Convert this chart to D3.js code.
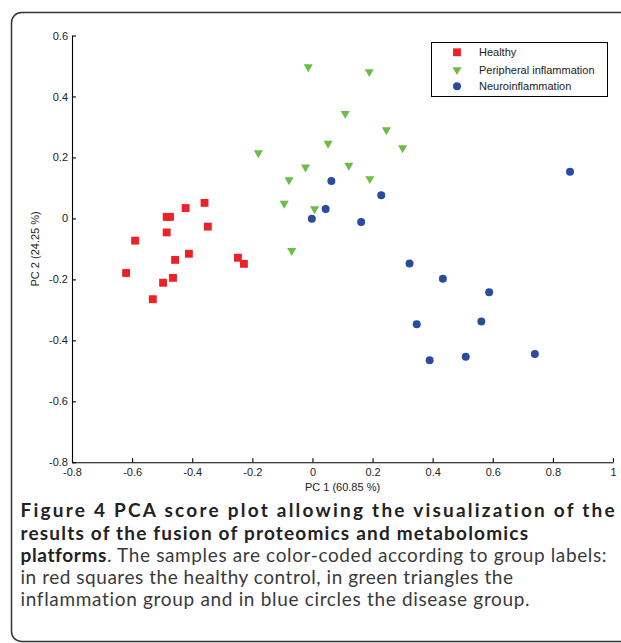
<!DOCTYPE html>
<html>
<head>
<meta charset="utf-8">
<script src="https://cdn.jsdelivr.net/npm/d3@7"></script>
<style>
  body { margin: 0; background: #fff; }
  svg { display: block; }
  .tick text { font-family: "Liberation Sans", Arial, sans-serif; font-size: 11px; fill: #222; }
  .caption { font-family: Lato, "Open Sans", sans-serif; fill: #333; font-size: 19px; }
</style>
</head>
<body>
<div class="viz"></div>
<script>
// PCA scores, [PC1, PC2]
const healthy = [
    [-0.485, 0.005], [-0.474, 0.005], [-0.422, 0.034], [-0.359, 0.051],
    [-0.348, -0.027], [-0.485, -0.046], [-0.590, -0.073], [-0.411, -0.116],
    [-0.457, -0.136], [-0.248, -0.129], [-0.228, -0.149], [-0.620, -0.179],
    [-0.497, -0.211], [-0.464, -0.195], [-0.531, -0.265],
];
const peripheral = [
    [-0.014, 0.497], [0.189, 0.481], [0.109, 0.344], [0.246, 0.290],
    [0.052, 0.246], [0.300, 0.231], [-0.180, 0.215], [-0.023, 0.168],
    [0.121, 0.174], [-0.078, 0.126], [0.191, 0.130], [-0.094, 0.049],
    [0.007, 0.031], [-0.069, -0.106],
];
const neuro = [
    [0.857, 0.153], [0.063, 0.123], [0.229, 0.076], [0.044, 0.031],
    [-0.002, -0.001], [0.162, -0.012], [0.323, -0.148], [0.434, -0.198],
    [0.588, -0.242], [0.347, -0.347], [0.562, -0.338], [0.390, -0.465],
    [0.510, -0.454], [0.740, -0.445],
];
const groupNames = ["Healthy", "Peripheral inflammation", "Neuroinflammation"];
const xTicks = [-0.8, -0.6, -0.4, -0.2, 0, 0.2, 0.4, 0.6, 0.8, 1];
const yTicks = [-0.8, -0.6, -0.4, -0.2, 0, 0.2, 0.4, 0.6];
const xTitle = "PC 1 (60.85 %)";
const yTitle = "PC 2 (24.25 %)";

var width = 621,
    height = 643;

var svg = d3.select(".viz").append("svg")
    .attr("width", width)
    .attr("height", height);

svg.append("rect").attr("width", width).attr("height", height).attr("fill", "#fff");

// figure frame, open to the right
svg.append("rect")
    .attr("x", 11.5).attr("y", 12.5)
    .attr("width", 700).attr("height", 629)
    .attr("rx", 10)
    .attr("fill", "none")
    .attr("stroke", "#333")
    .attr("stroke-width", 1.5);

var x = d3.scaleLinear().domain([-0.8, 1]).range([72, 613]);
var y = d3.scaleLinear().domain([-0.8, 0.6]).range([462.3, 35.5]);

var fmt = (d) => (d === 0 ? "0" : String(+d.toFixed(1)));

svg.append("g")
    .attr("transform", `translate(0,${y(-0.8)})`)
    .call(d3.axisBottom(x).tickValues(xTicks).tickFormat(fmt)
        .tickSizeInner(-4).tickSizeOuter(0).tickPadding(6));

svg.append("g")
    .attr("transform", `translate(${x(-0.8)},0)`)
    .call(d3.axisLeft(y).tickValues(yTicks).tickFormat(fmt)
        .tickSizeInner(-4).tickSizeOuter(0).tickPadding(4));

svg.selectAll(".domain, .tick line").attr("stroke", "#000").attr("stroke-width", 1.1);

svg.append("text")
    .attr("x", (x(-0.8) + x(1)) / 2)
    .attr("y", 491)
    .attr("text-anchor", "middle")
    .style("font-family", "Liberation Sans, Arial, sans-serif")
    .style("font-size", "11px")
    .attr("fill", "#222")
    .text(xTitle);

svg.append("text")
    .attr("transform", `translate(39,${(y(0.6) + y(-0.8)) / 2}) rotate(-90)`)
    .attr("text-anchor", "middle")
    .style("font-family", "Liberation Sans, Arial, sans-serif")
    .style("font-size", "11px")
    .attr("fill", "#222")
    .text(yTitle);

const colors = ["#ee2127", "#6cbd45", "#2b4b9f"];
const symbols = [
    d3.symbol().type(d3.symbolSquare).size(62),
    d3.symbol().type(d3.symbolTriangle).size(36),
    d3.symbol().type(d3.symbolCircle).size(50),
];
const rot = [0, 180, 0];

[healthy, peripheral, neuro].forEach((data, i) => {
    svg.append("g").selectAll("path")
        .data(data)
        .enter()
        .append("path")
        .attr("d", symbols[i])
        .attr("transform", (d) => `translate(${x(d[0])},${y(d[1])}) rotate(${rot[i]})`)
        .attr("fill", colors[i]);
});

// legend
var lg = svg.append("g");
lg.append("rect")
    .attr("x", 431.5).attr("y", 42.5)
    .attr("width", 176).attr("height", 54)
    .attr("fill", "#fff")
    .attr("stroke", "#000");
const legendRows = [52.3, 69.8, 86.3];
groupNames.forEach((name, i) => {
    lg.append("path")
        .attr("d", symbols[i])
        .attr("transform", `translate(457,${legendRows[i]}) rotate(${rot[i]})`)
        .attr("fill", colors[i]);
    lg.append("text")
        .attr("x", 479)
        .attr("y", legendRows[i] + 4)
        .style("font-family", "Liberation Sans, Arial, sans-serif")
        .style("font-size", "11px")
        .attr("fill", "#222")
        .text(name);
});

// caption
const captionLines = [
    [["Figure 4 PCA score plot allowing the visualization of the", true]],
    [["results of the fusion of proteomics and metabolomics", true]],
    [["platforms", true], [". The samples are color-coded according to group labels:", false]],
    [["in red squares the healthy control, in green triangles the", false]],
    [["inflammation group and in blue circles the disease group.", false]],
];
const captionBase = [517, 539.5, 561.5, 583.5, 605.5];
// right edge of each caption line in the figure
const captionEnd = [615, 528, 606, 513, 530];

var cap = svg.append("g").attr("class", "caption");
captionLines.forEach((parts, i) => {
    var t = cap.append("text").attr("x", 20.5).attr("y", captionBase[i]);
    parts.forEach(([s, bold]) => {
        t.append("tspan")
            .attr("font-weight", bold ? "bold" : "normal")
            .attr("fill", bold ? "#222" : "#3a3a3a")
            .text(s);
    });
    var n = t.text().length;
    var w = t.node().getComputedTextLength();
    t.attr("letter-spacing", ((captionEnd[i] - 20.5 - w) / (n - 1)) + "px");
});
</script>
</body>
</html>
